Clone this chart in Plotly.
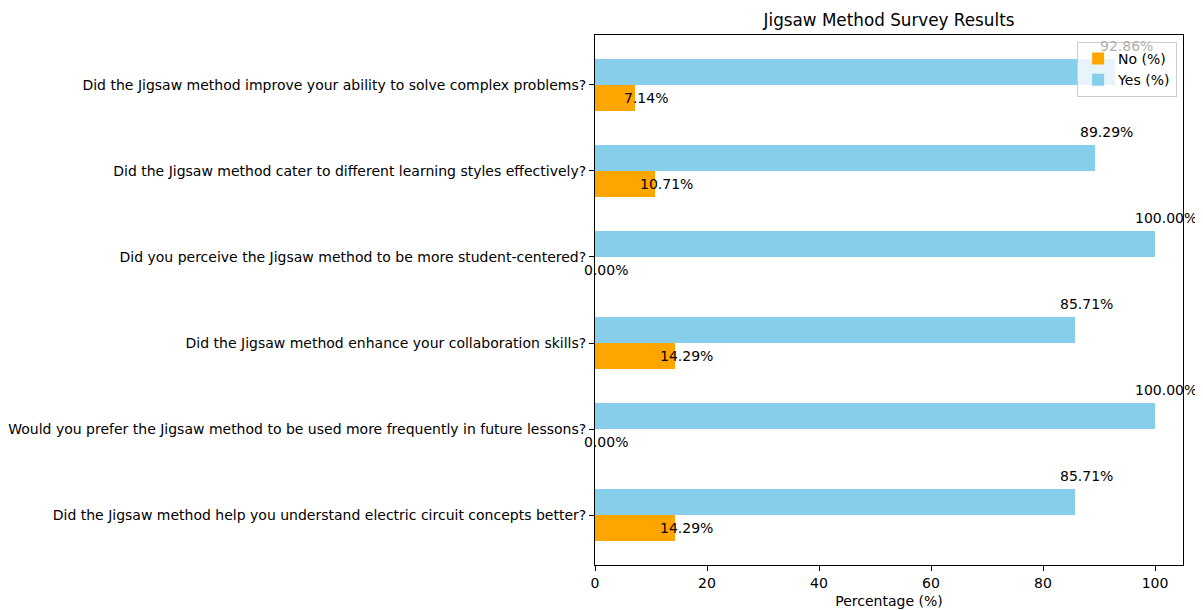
import plotly.graph_objects as go

questions = [
    "Did the Jigsaw method help you understand electric circuit concepts better?",
    "Would you prefer the Jigsaw method to be used more frequently in future lessons?",
    "Did the Jigsaw method enhance your collaboration skills?",
    "Did you perceive the Jigsaw method to be more student-centered?",
    "Did the Jigsaw method cater to different learning styles effectively?",
    "Did the Jigsaw method improve your ability to solve complex problems?",
]
yes_pct = [85.71, 100.00, 85.71, 100.00, 89.29, 92.86]
no_pct = [14.29, 0.00, 14.29, 0.00, 10.71, 7.14]

bar_h = 0.3
idx = list(range(len(questions)))
y_no = [i - bar_h / 2 for i in idx]
y_yes = [i + bar_h / 2 for i in idx]

FONT = "DejaVu Sans"
FS = 14
fig = go.Figure()
fig.add_trace(go.Bar(x=no_pct, y=y_no, orientation="h", width=bar_h,
                     marker=dict(color="#FFA500", line=dict(width=0)), name="No (%)"))
fig.add_trace(go.Bar(x=yes_pct, y=y_yes, orientation="h", width=bar_h,
                     marker=dict(color="#87CEEB", line=dict(width=0)), name="Yes (%)"))

ann = []
for i in idx:
    ann.append(dict(x=no_pct[i] + 2, y=i - bar_h / 2, xref="x", yref="y",
                    text=f"{no_pct[i]:.2f}%", showarrow=False,
                    font=dict(family=FONT, size=FS, color="black")))
    # the top label sits behind the semi-transparent legend in the original
    col = "#b0b0b0" if i == idx[-1] else "black"
    ann.append(dict(x=yes_pct[i] + 2, y=i + 1.5 * bar_h, xref="x", yref="y",
                    text=f"{yes_pct[i]:.2f}%", showarrow=False,
                    font=dict(family=FONT, size=FS, color=col)))

fig.update_layout(
    width=1203, height=610,
    margin=dict(l=587, r=28, t=27, b=53, autoexpand=False),
    paper_bgcolor="white", plot_bgcolor="white",
    font=dict(family=FONT, size=FS, color="black"),
    title=dict(text="Jigsaw Method Survey Results", x=881 / 1203,
               xanchor="center", y=1 - 12 / 610, yanchor="middle",
               font=dict(family=FONT, size=16.8, color="black")),
    barmode="overlay",
    bargap=0,
    showlegend=True,
    legend=dict(x=0.99, y=0.987, xanchor="right", yanchor="top",
                bgcolor="rgba(255,255,255,0.8)", bordercolor="#cccccc", borderwidth=1,
                font=dict(family=FONT, size=FS, color="black"), traceorder="normal",
                tracegroupgap=0),
    annotations=ann,
    xaxis=dict(range=[0, 105], tickvals=[0, 20, 40, 60, 80, 100], automargin=False,
               ticks="outside", ticklen=5, tickcolor="black", showgrid=False,
               zeroline=False, showline=True, linecolor="black", linewidth=1, mirror=True,
               title=dict(text="Percentage (%)", standoff=6,
                          font=dict(family=FONT, size=FS, color="black"))),
    yaxis=dict(range=[-0.58, 5.58], tickvals=idx, ticktext=questions, automargin=False,
               ticks="outside", ticklen=5, tickcolor="black", showgrid=False,
               zeroline=False, showline=True, linecolor="black", linewidth=1, mirror=True),
)
fig.write_html("out.html")
